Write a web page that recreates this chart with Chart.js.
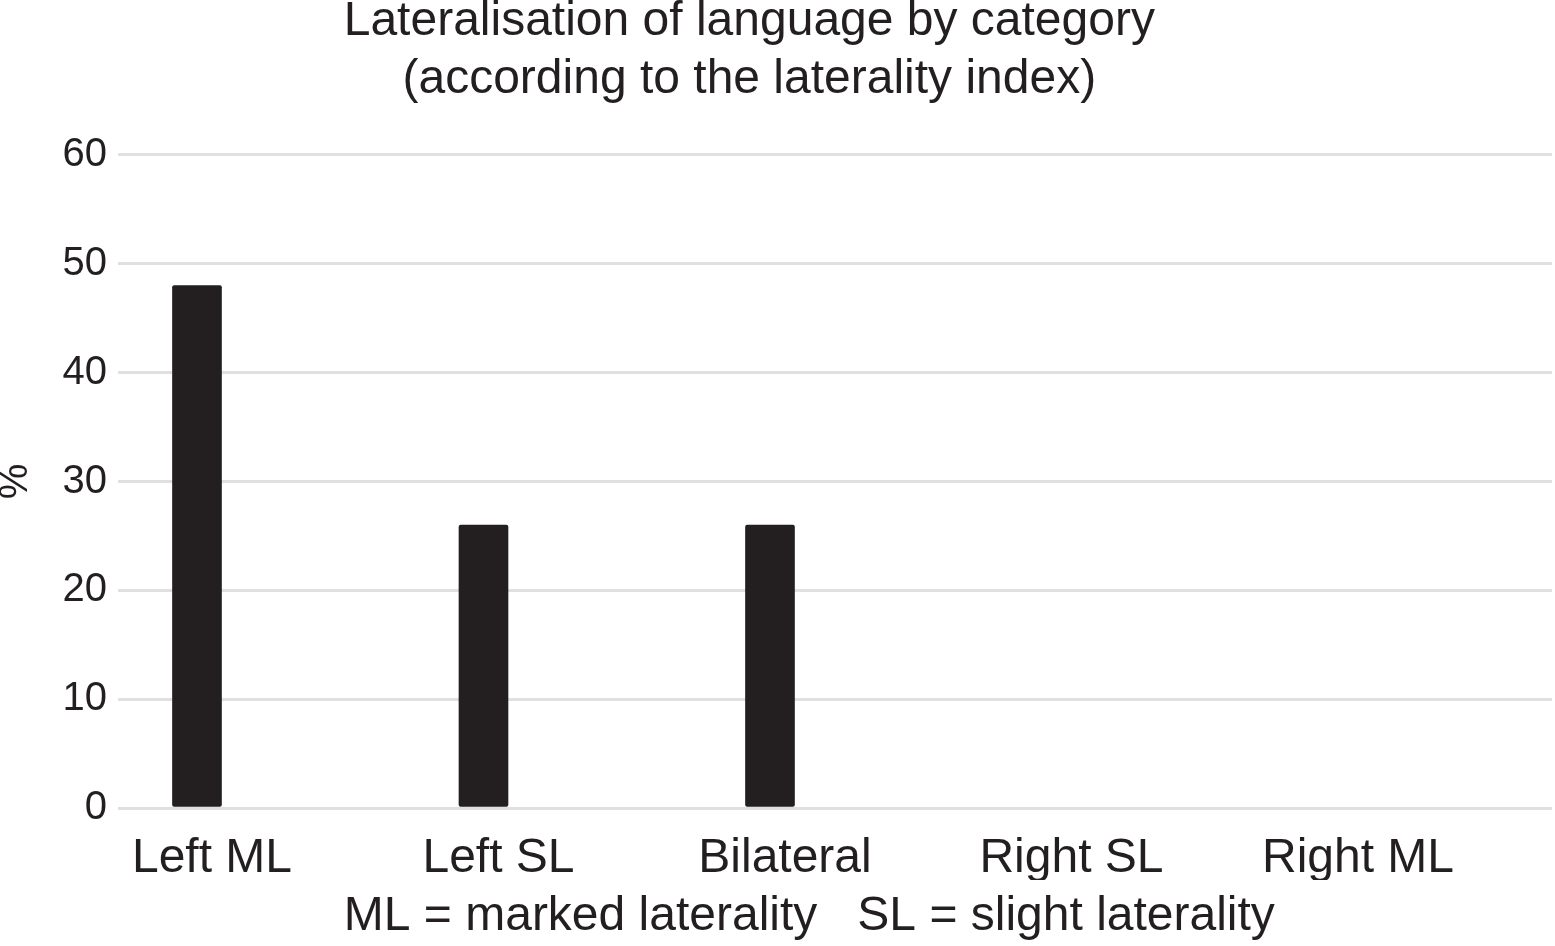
<!DOCTYPE html>
<html>
<head>
<meta charset="utf-8">
<script src="https://cdn.jsdelivr.net/npm/chart.js@4"></script>
<style>
  html, body { margin: 0; padding: 0; background: #fff; overflow: hidden; }
  #chart { position: absolute; left: 0; top: -7px; }
</style>
</head>
<body>
<canvas id="chart" width="1555" height="953"></canvas>
<script>
/* data */
const categories = ["Left ML", "Left SL", "Bilateral", "Right SL", "Right ML"];
const percentValues = [48, 26, 26, 0, 0];
const yTicks = [0, 10, 20, 30, 40, 50, 60];

const ink = '#231f20';
const fontFamily = '"Liberation Sans", Arial, Helvetica, sans-serif';

const chartCanvas = document.getElementById('chart');

// empty categories get no visible stub
const hasValue = ctx => !!(ctx.raw && ctx.raw.y);

let barData = {
  datasets: [{
    data: percentValues.map((v, i) => ({ x: i, y: v })),
    backgroundColor: ctx => (hasValue(ctx) ? ink : 'rgba(0,0,0,0)'),
    barThickness: 49,
    borderRadius: ctx => (hasValue(ctx) ? 2 : 0),
    borderSkipped: false
  }]
};

let barOptions = {
  responsive: false,
  devicePixelRatio: 1,
  animation: false,
  layout: {
    padding: { left: 0, right: 3, top: 0, bottom: 0 }
  },
  scales: {
    x: {
      type: 'linear',
      min: -0.2757,
      max: 4.7295,
      offset: false,
      grid: { display: false, offset: false },
      border: { display: false },
      afterBuildTicks: scale => {
        scale.ticks = categories.map((c, i) => ({ value: i }));
      },
      afterFit: scale => { scale.height = 72; },
      ticks: {
        callback: value => categories[value],
        color: ink,
        font: { family: fontFamily, size: 48 },
        padding: 14,
        labelOffset: 15,
        maxRotation: 0,
        autoSkip: false
      }
    },
    y: {
      min: 0,
      max: 60,
      afterBuildTicks: scale => {
        scale.ticks = yTicks.map(v => ({ value: v }));
      },
      afterFit: scale => { scale.width = 118; },
      grid: {
        color: '#e0e0e0',
        lineWidth: 3,
        drawTicks: false
      },
      border: { display: false },
      ticks: {
        color: ink,
        font: { family: fontFamily, size: 40 },
        padding: 11
      },
      title: {
        display: true,
        text: '%',
        color: ink,
        font: { family: fontFamily, size: 40, lineHeight: 0.8 },
        padding: { top: 0, bottom: 0 }
      }
    }
  },
  plugins: {
    legend: { display: false },
    tooltip: { enabled: false },
    title: {
      display: true,
      text: ['Lateralisation of language by category\u00a0\u00a0\u00a0\u00a0',
             '(according to the laterality index)\u00a0\u00a0\u00a0\u00a0'],
      color: ink,
      font: { family: fontFamily, size: 48, weight: 'normal', lineHeight: 1.2083 },
      padding: { top: 0, bottom: 46 }
    },
    subtitle: {
      display: true,
      position: 'bottom',
      text: '\u00a0\u00a0\u00a0\u00a0\u00a0ML = marked laterality\u00a0\u00a0\u00a0SL = slight laterality',
      color: ink,
      font: { family: fontFamily, size: 48, weight: 'normal', lineHeight: 1.2 },
      padding: { top: 8.4, bottom: 0 }
    }
  }
};

let barChart = new Chart(chartCanvas, {
  type: 'bar',
  data: barData,
  options: barOptions
});
</script>
</body>
</html>
